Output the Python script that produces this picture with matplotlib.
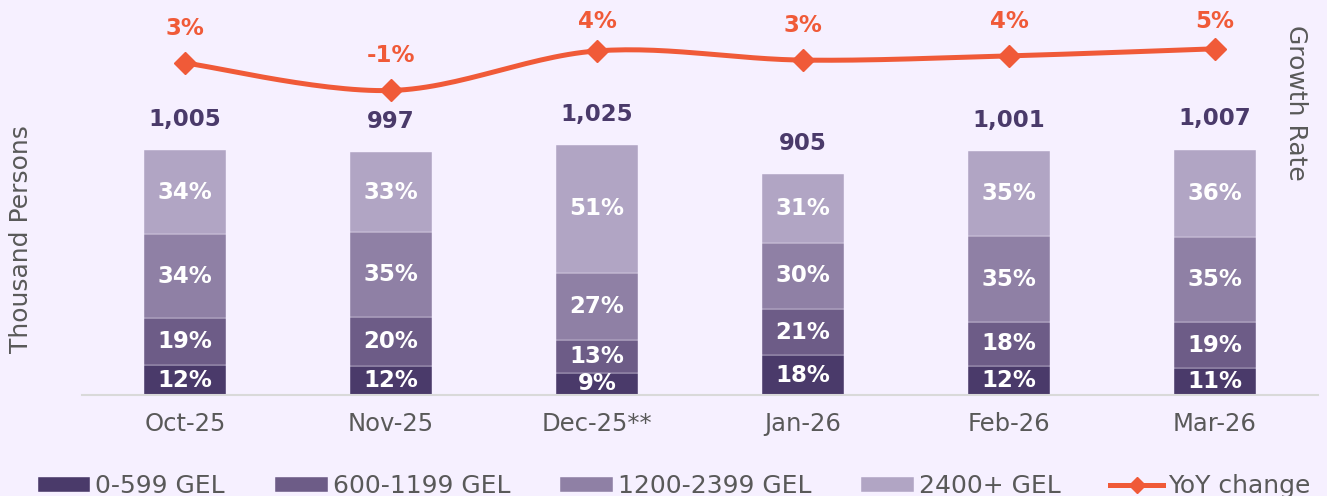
import matplotlib
matplotlib.use("Agg")
import matplotlib.pyplot as plt
from matplotlib.lines import Line2D
import numpy as np

# data
months = ["Oct-25", "Nov-25", "Dec-25**", "Jan-26", "Feb-26", "Mar-26"]
totals = [1005, 997, 1025, 905, 1001, 1007]
pct_0_599 = [12, 12, 9, 18, 12, 11]
pct_600_1199 = [19, 20, 13, 21, 18, 19]
pct_1200_2399 = [34, 35, 27, 30, 35, 35]
pct_2400 = [34, 33, 51, 31, 35, 36]
yoy = [2.6, -1.3, 4.3, 3.0, 3.6, 4.6]

groups = ["0-599 GEL", "600-1199 GEL", "1200-2399 GEL", "2400+ GEL"]
colors = ["#4a3a6a", "#6d5c87", "#8f80a5", "#b1a5c4"]
line_color = "#f05a38"
bg = "#f6f0ff"
text_gray = "#595959"

pcts = np.array([pct_0_599, pct_600_1199, pct_1200_2399, pct_2400], dtype=float)
tot = np.array(totals, dtype=float)
seg = pcts / pcts.sum(axis=0) * tot  # thousand persons per segment

fig = plt.figure(figsize=(13.27, 4.96), dpi=100, facecolor=bg)
ax = fig.add_axes([82 / 1327, 101 / 496, 1236 / 1327, 390 / 496])
ax.set_facecolor(bg)
x = np.arange(len(months))

bottom = np.zeros(len(months))
for i in range(4):
    bars = ax.bar(x, seg[i], 0.4, bottom=bottom, color=colors[i], label=groups[i],
                  edgecolor=bg, linewidth=0.3)
    for j, b in enumerate(bars):
        ax.text(b.get_x() + b.get_width() / 2, bottom[j] + seg[i][j] / 2,
                f"{int(pcts[i][j])}%", ha="center", va="center",
                color="white", fontsize=16.5, fontweight="bold")
    bottom += seg[i]

for j in range(len(months)):
    ax.annotate(f"{totals[j]:,}", (x[j], totals[j]), xytext=(0, 22),
                textcoords="offset points", ha="center", va="center",
                color="#4a3a6a", fontsize=16.5, fontweight="bold")

ax.set_xlim(-0.5, len(months) - 0.5)
ax.set_ylim(0, 1600)
ax.set_yticks([])
ax.set_xticks(x)
ax.set_xticklabels(months, fontsize=17.5, color=text_gray)
ax.tick_params(axis="x", length=0, pad=12)
for s in ["top", "right", "left"]:
    ax.spines[s].set_visible(False)
ax.spines["bottom"].set_color("#d9d9d9")
ax.spines["bottom"].set_linewidth(1.5)
ax.set_ylabel("Thousand Persons", fontsize=18, color=text_gray)
ax.yaxis.set_label_coords(-0.040, 0.40)

# growth rate on secondary axis, smoothed line like the original
ax2 = ax.twinx()
ax2.set_ylim(-44.4, 10.8)
ax2.set_yticks([])
for s in ax2.spines.values():
    s.set_visible(False)

pts = np.column_stack([x, yoy]).astype(float)
ext = np.vstack([pts[0], pts, pts[-1]])
curve = []
for k in range(len(pts) - 1):
    p0, p1, p2, p3 = ext[k], ext[k + 1], ext[k + 2], ext[k + 3]
    for t in np.linspace(0, 1, 30):
        c = 0.5 * ((2 * p1) + (-p0 + p2) * t + (2 * p0 - 5 * p1 + 4 * p2 - p3) * t ** 2
                   + (-p0 + 3 * p1 - 3 * p2 + p3) * t ** 3)
        curve.append(c)
curve = np.array(curve)
ax2.plot(curve[:, 0], curve[:, 1], color=line_color, lw=3.6, solid_capstyle="round")
ax2.plot(x, yoy, "D", color=line_color, markersize=11, lw=0)
# labels sit above the markers but are kept below the top edge
for j in range(len(months)):
    ax2.text(x[j], min(yoy[j] + 4.9, 8.4), f"{yoy[j]:.0f}%", ha="center", va="center",
             color=line_color, fontsize=16.5, fontweight="bold")
ax2.set_ylabel("Growth Rate", fontsize=18, color=text_gray, rotation=270)
ax2.yaxis.set_label_coords(0.992, 0.75)

handles, labels = ax.get_legend_handles_labels()
handles.append(Line2D([0], [0], color=line_color, lw=3.6, marker="D", markersize=8))
labels.append("YoY change")
fig.legend(handles, labels, loc="center", bbox_to_anchor=(0.508, 10 / 496), ncol=5,
           frameon=False, fontsize=18, labelcolor=text_gray, handlelength=2.1,
           handleheight=0.55, handletextpad=0.2, columnspacing=2.0)

fig.savefig("out.png", dpi=100, facecolor=bg)
